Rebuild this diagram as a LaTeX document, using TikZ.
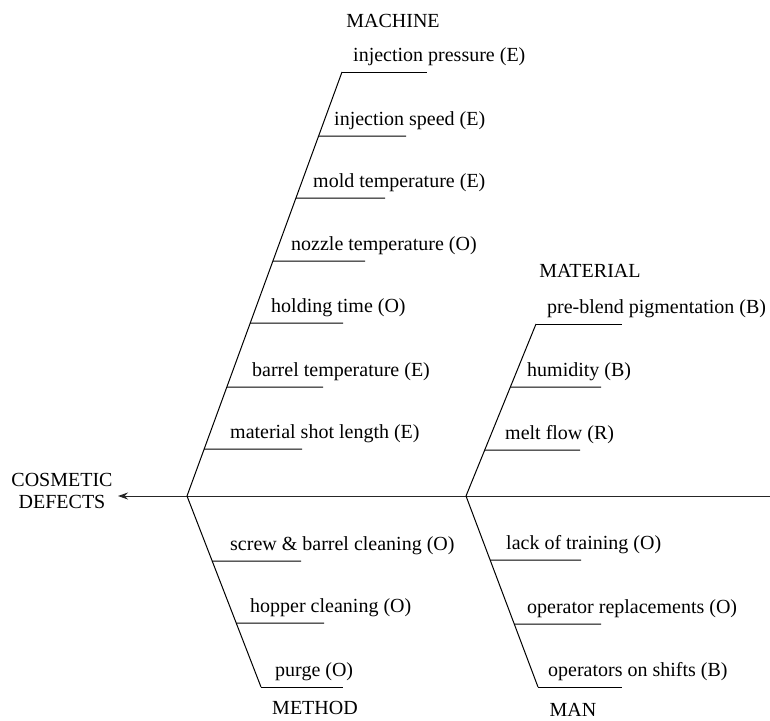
\documentclass[tikz,border=0pt]{standalone}
\usepackage{fontspec}
\setmainfont{Liberation Serif}
\usepackage{tikz}
\usetikzlibrary{calc, positioning, arrows.meta}
\tikzset{
    spine/.style={-{Stealth[length=10pt, width=7pt]}, line width=1pt, black!85},
    bone/.style={line width=1pt, black},
    cause/.style={line width=1pt, black},
    causetext/.style={anchor=base west, inner sep=0pt, font=\fontsize{20}{22}\selectfont},
    category/.style={inner sep=0pt, font=\fontsize{20}{22}\selectfont},
    effect/.style={align=center, inner sep=0pt, font=\fontsize{20}{22}\selectfont}
}

\begin{document}
\begin{tikzpicture}[x=1pt, y=-1pt]
    \useasboundingbox (0,0) rectangle (770,720);

    % Spine
    \coordinate (head) at (118,496);
    \coordinate (tail) at (770,496);
    \coordinate (J1) at (187,496);
    \coordinate (J2) at (466,496);
    \draw[spine] (tail) -- (head);
    \node[effect] (defects) at (62,491) {COSMETIC\\DEFECTS};

    % Bone ends
    \coordinate (machineTop) at (342,72);
    \coordinate (methodEnd) at (261,687);
    \coordinate (materialTop) at (536,324);
    \coordinate (manEnd) at (538,687);
    \draw[bone] (J1) -- (machineTop);
    \draw[bone] (J1) -- (methodEnd);
    \draw[bone] (J2) -- (materialTop);
    \draw[bone] (J2) -- (manEnd);

    % Category labels
    \node[category] (machine) at (393,21) {MACHINE};
    \node[category] (material) at (590,271) {MATERIAL};
    \node[category] (method) at (315,708) {METHOD};
    \node[category] (man) at (573,710) {MAN};

    % Machine causes
    \foreach \y/\xr/\xt/\txt [count=\i] in {
        72/427/353/{injection pressure (E)},
        136/406/334/{injection speed (E)},
        198/385/313/{mold temperature (E)},
        261/365/291/{nozzle temperature (O)},
        323/343/271/{holding time (O)},
        387/323/252/{barrel temperature (E)},
        449/302/230/{material shot length (E)}}{
        \coordinate (mc\i) at ($(J1)!{(496-\y)/424}!(machineTop)$);
        \draw[cause] (mc\i) -- (\xr,\y);
        \node[causetext] (mcText\i) at (\xt,\y-11) {\txt};
    }

    % Material causes
    \foreach \y/\xr/\xt/\txt [count=\i] in {
        324/622/547/{pre-blend pigmentation (B)},
        387/601/527/{humidity (B)},
        450/580/505/{melt flow (R)}}{
        \coordinate (mt\i) at ($(J2)!{(496-\y)/172}!(materialTop)$);
        \draw[cause] (mt\i) -- (\xr,\y);
        \node[causetext] (mtText\i) at (\xt,\y-11) {\txt};
    }

    % Method causes
    \foreach \y/\xr/\xt/\txt [count=\i] in {
        561/301/230/{screw \& barrel cleaning (O)},
        623/324/250/{hopper cleaning (O)},
        687/343/275/{purge (O)}}{
        \coordinate (md\i) at ($(J1)!{(\y-496)/191}!(methodEnd)$);
        \draw[cause] (md\i) -- (\xr,\y);
        \node[causetext] (mdText\i) at (\xt,\y-11) {\txt};
    }

    % Man causes
    \foreach \y/\xr/\xt/\txt [count=\i] in {
        560/581/506/{lack of training (O)},
        624/601/527/{operator replacements (O)},
        687/622/548/{operators on shifts (B)}}{
        \coordinate (mn\i) at ($(J2)!{(\y-496)/191}!(manEnd)$);
        \draw[cause] (mn\i) -- (\xr,\y);
        \node[causetext] (mnText\i) at (\xt,\y-11) {\txt};
    }
\end{tikzpicture}
\end{document}
